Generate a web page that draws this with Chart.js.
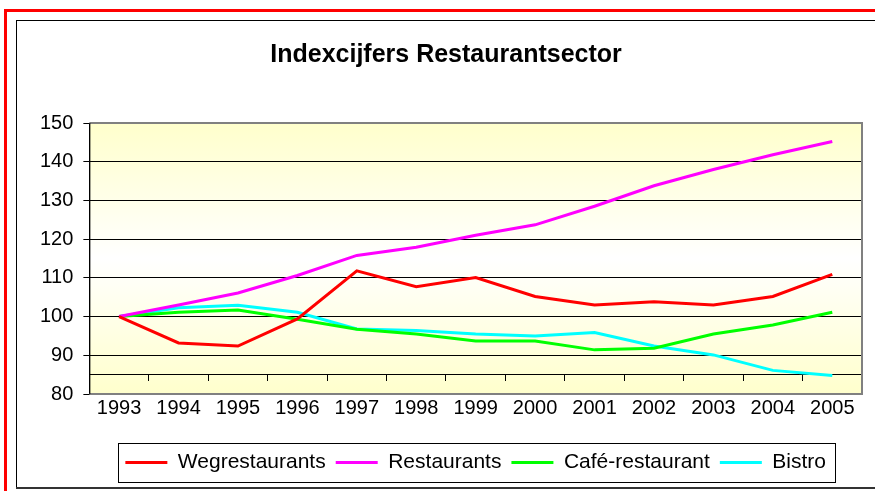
<!DOCTYPE html>
<html>
<head>
<meta charset="utf-8">
<script src="https://cdn.jsdelivr.net/npm/chart.js@4"></script>
<style>
  html, body { margin: 0; padding: 0; background: #fff; }
  #wrap { width: 875px; height: 491px; }
</style>
</head>
<body>
<div id="wrap"><canvas id="linechart" width="875" height="491"></canvas></div>
<script>
const years = ['1993', '1994', '1995', '1996', '1997', '1998', '1999', '2000', '2001', '2002', '2003', '2004', '2005'];
const wegrestaurants = [100, 93.2, 92.4, 99.4, 111.8, 107.7, 110.1, 105.2, 103.0, 103.8, 103.0, 105.2, 110.9];
const restaurants = [100, 103.0, 106.1, 110.6, 115.8, 117.9, 121.0, 123.7, 128.5, 133.8, 138.0, 141.8, 145.2];
const cafeRestaurant = [100, 101.1, 101.7, 99.3, 96.7, 95.5, 93.7, 93.7, 91.4, 91.8, 95.5, 97.8, 101.1];
const bistro = [100, 102.3, 102.9, 101.1, 96.8, 96.4, 95.5, 95.0, 95.9, 92.4, 90.1, 86.1, 84.8];

const FONT = "'Liberation Sans', Arial, sans-serif";

// achtergrond, kaders en legendarand
const frame = {
  id: 'frame',
  beforeDraw(chart) {
    const ctx = chart.ctx;
    const a = chart.chartArea;
    ctx.save();
    ctx.fillStyle = '#fff';
    ctx.fillRect(0, 0, chart.width, chart.height);
    const g = ctx.createLinearGradient(0, a.top, 0, a.bottom);
    g.addColorStop(0, '#ffffcc');
    g.addColorStop(0.5, '#ffffff');
    g.addColorStop(1, '#ffffcc');
    ctx.fillStyle = g;
    ctx.fillRect(a.left, a.top, a.right - a.left, a.bottom - a.top);
    ctx.restore();
  },
  beforeDatasetsDraw(chart) {
    const ctx = chart.ctx;
    const a = chart.chartArea;
    ctx.save();
    ctx.strokeStyle = '#808080';
    ctx.lineWidth = 2;
    ctx.beginPath();
    ctx.moveTo(a.left, a.top);
    ctx.lineTo(a.right, a.top);
    ctx.lineTo(a.right, a.bottom);
    ctx.lineTo(a.left, a.bottom);
    ctx.stroke();
    ctx.strokeStyle = '#000';
    ctx.lineWidth = 1;
    ctx.beginPath();
    ctx.moveTo(a.left + 0.5, a.top);
    ctx.lineTo(a.left + 0.5, a.bottom);
    ctx.stroke();
    ctx.restore();
  },
  afterDraw(chart) {
    const ctx = chart.ctx;
    ctx.save();
    ctx.strokeStyle = '#ff0000';
    ctx.lineWidth = 3;
    ctx.strokeRect(5.5, 10.5, chart.width + 20, chart.height + 20);
    ctx.strokeStyle = '#000';
    ctx.lineWidth = 1;
    ctx.strokeRect(16.5, 20.5, chart.width + 20, 467);
    ctx.strokeStyle = '#333';
    ctx.lineWidth = 2;
    ctx.beginPath();
    ctx.moveTo(16, 488);
    ctx.lineTo(chart.width, 488);
    ctx.stroke();

    const boxes = chart.legend.legendHitBoxes;
    if (boxes && boxes.length) {
      const left = Math.min(...boxes.map(b => b.left));
      const right = Math.max(...boxes.map(b => b.left + b.width));
      const top = Math.min(...boxes.map(b => b.top));
      const bottom = Math.max(...boxes.map(b => b.top + b.height));
      ctx.strokeStyle = '#000';
      ctx.lineWidth = 1;
      ctx.strokeRect(Math.round(left - 7) + 0.5, Math.round(top - 9) + 0.5,
        Math.round(right - left + 16), Math.round(bottom - top + 18));
    }
    ctx.restore();
  }
};

function line(label, data, color) {
  return {
    label: label,
    data: data,
    borderColor: color,
    backgroundColor: color,
    borderWidth: 3,
    pointRadius: 0,
    tension: 0,
    fill: false
  };
}

new Chart('linechart', {
  type: 'line',
  data: {
    labels: years,
    datasets: [
      line('Wegrestaurants', wegrestaurants, '#ff0000'),
      line('Restaurants', restaurants, '#ff00ff'),
      line('Café-restaurant', cafeRestaurant, '#00ff00'),
      line('Bistro', bistro, '#00ffff')
    ]
  },
  options: {
    responsive: false,
    animation: false,
    layout: { padding: { left: 30, right: 13, top: 0, bottom: 8 } },
    plugins: {
      title: {
        display: true,
        text: 'Indexcijfers Restaurantsector',
        color: '#000',
        font: { family: FONT, size: 25, weight: 'bold' },
        padding: { top: 40, bottom: 53 }
      },
      legend: {
        position: 'bottom',
        fullSize: false,
        labels: {
          color: '#000',
          font: { family: FONT, size: 21 },
          boxWidth: 42,
          boxHeight: 0,
          padding: 10
        }
      },
      tooltip: { enabled: false }
    },
    scales: {
      x: {
        offset: true,
        grid: { display: false, drawTicks: false, tickLength: 0 },
        border: { display: false },
        afterFit(scale) { scale.height += 20; },
        ticks: {
          color: '#000',
          font: { family: FONT, size: 20 },
          padding: 2,
          maxRotation: 0,
          autoSkip: false
        }
      },
      x2: {
        type: 'category',
        labels: years,
        position: { y: 85 },
        offset: true,
        grid: { offset: true, drawOnChartArea: false, tickLength: 6, tickColor: '#000' },
        border: { color: '#000', width: 1 },
        ticks: { display: false }
      },
      y: {
        min: 80,
        max: 150,
        grid: {
          color: ctx => (ctx.tick && (ctx.tick.value === 80 || ctx.tick.value === 150)) ? 'rgba(0,0,0,0)' : '#000',
          tickColor: '#000',
          tickLength: 6
        },
        border: { color: '#000' },
        ticks: {
          stepSize: 10,
          color: '#000',
          padding: 10,
          font: { family: FONT, size: 20 }
        }
      }
    }
  },
  plugins: [frame]
});
</script>
</body>
</html>
